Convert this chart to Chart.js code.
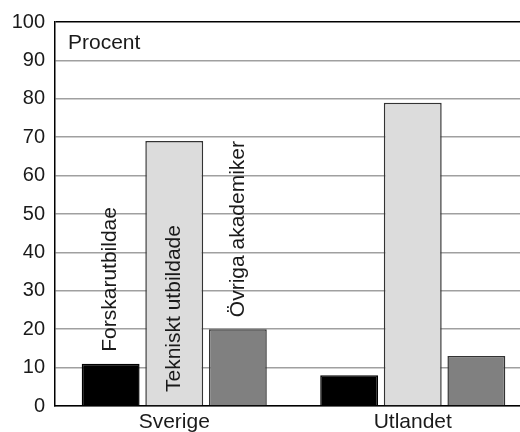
<!DOCTYPE html>
<html>
<head>
<meta charset="utf-8">
<script src="https://cdn.jsdelivr.net/npm/chart.js@4/dist/chart.umd.min.js"></script>
<style>
  html, body { margin: 0; padding: 0; background: #fff; overflow: hidden; }
  #wrap { width: 532px; height: 432px; position: relative; }
</style>
</head>
<body>
<div id="wrap"><canvas id="chart"></canvas></div>
<script>
// --- Daten ---
const categories = ['Sverige', 'Utlandet'];
const seriesNames = ['Forskarutbildae', 'Tekniskt utbildade', 'Övriga akademiker'];
const forskar = [11, 8];
const tekniskt = [69, 79];
const ovriga = [20, 13];
const yTicks = [0, 10, 20, 30, 40, 50, 60, 70, 80, 90, 100];
const unitLabel = 'Procent';

const FONT = '"Liberation Sans", Arial, Helvetica, sans-serif';

// Beschriftungen in den Balken der ersten Gruppe (senkrecht)
const barLabels = {
    id: 'barLabels',
    afterDatasetsDraw(chart) {
        const ctx = chart.ctx;
        const base = chart.scales.y.getPixelForValue(0);
        ctx.save();
        ctx.font = '21px ' + FONT;
        ctx.fillStyle = '#1a1a1a';
        ctx.textAlign = 'left';
        ctx.textBaseline = 'middle';
        chart.data.datasets.forEach((ds, i) => {
            const bar = chart.getDatasetMeta(i).data[0];
            const v = ds.data[0];
            const startY = v > 50 ? base - 14 : bar.y - 12;
            ctx.save();
            ctx.translate(bar.x, startY);
            ctx.rotate(-Math.PI / 2);
            ctx.fillText(ds.label, 0, 0);
            ctx.restore();
        });
        // Einheit oben links
        ctx.font = '21px ' + FONT;
        ctx.textBaseline = 'alphabetic';
        ctx.fillText(unitLabel, chart.chartArea.left + 13, chart.chartArea.top + 27);
        ctx.restore();
    }
};

function initChart() {
    const ctx = document.getElementById('chart').getContext('2d');
    new Chart(ctx, {
        type: 'bar',
        data: {
            labels: categories,
            datasets: [
                { label: seriesNames[0], data: forskar, backgroundColor: '#000000', borderColor: '#000000' },
                { label: seriesNames[1], data: tekniskt, backgroundColor: '#dcdcdc', borderColor: '#333333' },
                { label: seriesNames[2], data: ovriga, backgroundColor: '#808080', borderColor: '#333333' }
            ]
        },
        options: {
            responsive: true,
            maintainAspectRatio: false,
            animation: false,
            datasets: { bar: { borderWidth: 1.5, categoryPercentage: 0.8, barPercentage: 0.91 } },
            layout: { padding: { top: 15, right: 0, left: 0, bottom: 0 } },
            scales: {
                x: {
                    grid: { display: false, drawTicks: false },
                    border: { color: '#000', width: 1.5 },
                    ticks: { color: '#1a1a1a', font: { family: FONT, size: 21 }, padding: 4 },
                    afterFit(s) { s.height = 26; }
                },
                y: {
                    min: 0, max: 100,
                    afterBuildTicks(s) { s.ticks = yTicks.map(v => ({ value: v })); },
                    grid: {
                        drawTicks: false,
                        lineWidth: 1.5,
                        color: c => (c.tick && c.tick.value === 100) ? '#000' : '#a0a0a0'
                    },
                    border: { color: '#000', width: 1.5 },
                    ticks: { color: '#1a1a1a', font: { family: FONT, size: 20 }, padding: 10 },
                    afterFit(s) { s.width = 55; }
                }
            },
            plugins: {
                legend: { display: false },
                tooltip: { enabled: false }
            }
        },
        plugins: [barLabels]
    });
}

initChart();
</script>
</body>
</html>
